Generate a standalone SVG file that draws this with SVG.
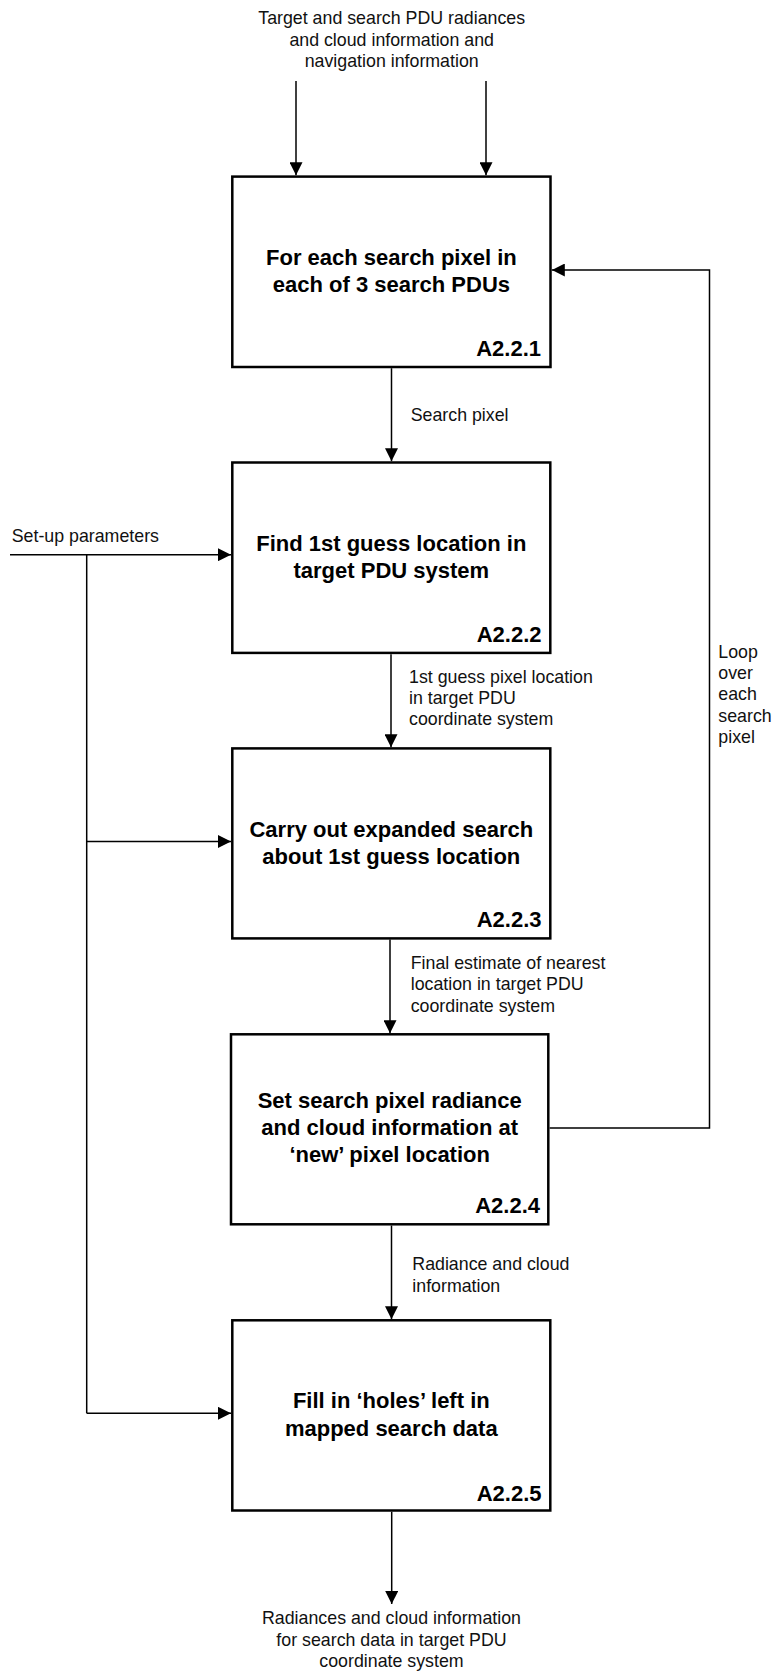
<svg xmlns="http://www.w3.org/2000/svg" width="782" height="1671" viewBox="0 0 782 1671">
  <style>
    .box { fill: #ffffff; stroke: #000000; stroke-width: 2.5; }
    .title { font-family: "Liberation Sans", Arial, sans-serif; font-weight: bold; font-size: 22px; fill: #000000; text-anchor: middle; }
    .code { font-family: "Liberation Sans", Arial, sans-serif; font-weight: bold; font-size: 22px; fill: #000000; text-anchor: end; }
    .note { font-family: "Liberation Sans", Arial, sans-serif; font-size: 17.8px; fill: #111111; }
    .mid { text-anchor: middle; }
    .flow { fill: none; stroke: #000000; stroke-width: 1.5; }
    .flow.arrow { marker-end: url(#head); }
  </style>
  <defs>
    <marker id="head" markerUnits="userSpaceOnUse" markerWidth="13" markerHeight="13" refX="13" refY="6.5" orient="auto">
      <path d="M0,0 L13,6.5 L0,13 Z" fill="#000000"/>
    </marker>
  </defs>

  <rect width="782" height="1671" fill="#ffffff"/>

  <!-- connectors -->
  <g id="connectors">
    <path class="flow arrow" d="M296,81 V175.3"/>
    <path class="flow arrow" d="M486,81 V175.3"/>
    <path class="flow arrow" d="M391.5,368.2 V461.3"/>
    <path class="flow arrow" d="M391,654.2 V747.2"/>
    <path class="flow arrow" d="M390,939.5 V1033.2"/>
    <path class="flow arrow" d="M391.5,1225.5 V1319.2"/>
    <path class="flow arrow" d="M391.7,1511.7 V1604"/>
    <!-- set-up parameters feed -->
    <path class="flow arrow" d="M10,554.7 H231"/>
    <path class="flow" d="M86.7,554.7 V1413.3"/>
    <path class="flow arrow" d="M86.7,841.5 H231"/>
    <path class="flow arrow" d="M86.7,1413.3 H231"/>
    <!-- per-pixel loop back to A2.2.1 -->
    <path class="flow arrow" d="M549.6,1128 H709.5 V270 H551.8"/>
  </g>

  <!-- external labels -->
  <g id="labels">
    <text class="note mid" x="391.7" y="24">Target and search PDU radiances</text>
    <text class="note mid" x="391.7" y="45.5">and cloud information and</text>
    <text class="note mid" x="391.7" y="66.7">navigation information</text>

    <text class="note" x="410.7" y="420.7">Search pixel</text>
    <text class="note" x="11.7" y="541.7">Set-up parameters</text>

    <text class="note" x="409" y="682.7">1st guess pixel location</text>
    <text class="note" x="409" y="704">in target PDU</text>
    <text class="note" x="409" y="725.3">coordinate system</text>

    <text class="note" x="718.3" y="657.7">Loop</text>
    <text class="note" x="718.3" y="679">over</text>
    <text class="note" x="718.3" y="700.3">each</text>
    <text class="note" x="718.3" y="721.6">search</text>
    <text class="note" x="718.3" y="742.9">pixel</text>

    <text class="note" x="410.7" y="969">Final estimate of nearest</text>
    <text class="note" x="410.7" y="990.3">location in target PDU</text>
    <text class="note" x="410.7" y="1011.6">coordinate system</text>

    <text class="note" x="412.3" y="1270">Radiance and cloud</text>
    <text class="note" x="412.3" y="1291.5">information</text>

    <text class="note mid" x="391.5" y="1624">Radiances and cloud information</text>
    <text class="note mid" x="391.5" y="1645.5">for search data in target PDU</text>
    <text class="note mid" x="391.5" y="1667">coordinate system</text>
  </g>

  <!-- activity A2.2.1 -->
  <g id="A2.2.1">
    <rect class="box" x="232.3" y="176.6" width="318.2" height="190.4"/>
    <text class="title" x="391.4" y="265">For each search pixel in</text>
    <text class="title" x="391.4" y="291.7">each of 3 search PDUs</text>
    <text class="code" x="541" y="355.6">A2.2.1</text>
  </g>

  <!-- activity A2.2.2 -->
  <g id="A2.2.2">
    <rect class="box" x="232.3" y="462.5" width="318" height="190.4"/>
    <text class="title" x="391.3" y="551">Find 1st guess location in</text>
    <text class="title" x="391.3" y="577.7">target PDU system</text>
    <text class="code" x="541.5" y="641.7">A2.2.2</text>
  </g>

  <!-- activity A2.2.3 -->
  <g id="A2.2.3">
    <rect class="box" x="232.3" y="748.4" width="318" height="190"/>
    <text class="title" x="391.3" y="836.8">Carry out expanded search</text>
    <text class="title" x="391.3" y="863.5">about 1st guess location</text>
    <text class="code" x="541.5" y="927.3">A2.2.3</text>
  </g>

  <!-- activity A2.2.4 -->
  <g id="A2.2.4">
    <rect class="box" x="231" y="1034.3" width="317.3" height="190"/>
    <text class="title" x="389.7" y="1108.3">Set search pixel radiance</text>
    <text class="title" x="389.7" y="1135">and cloud information at</text>
    <text class="title" x="389.7" y="1162.3">‘new’ pixel location</text>
    <text class="code" x="540" y="1213.3">A2.2.4</text>
  </g>

  <!-- activity A2.2.5 -->
  <g id="A2.2.5">
    <rect class="box" x="232.3" y="1320.3" width="318" height="190.2"/>
    <text class="title" x="391.3" y="1408.3">Fill in ‘holes’ left in</text>
    <text class="title" x="391.3" y="1435.7">mapped search data</text>
    <text class="code" x="541.5" y="1500.7">A2.2.5</text>
  </g>
</svg>
